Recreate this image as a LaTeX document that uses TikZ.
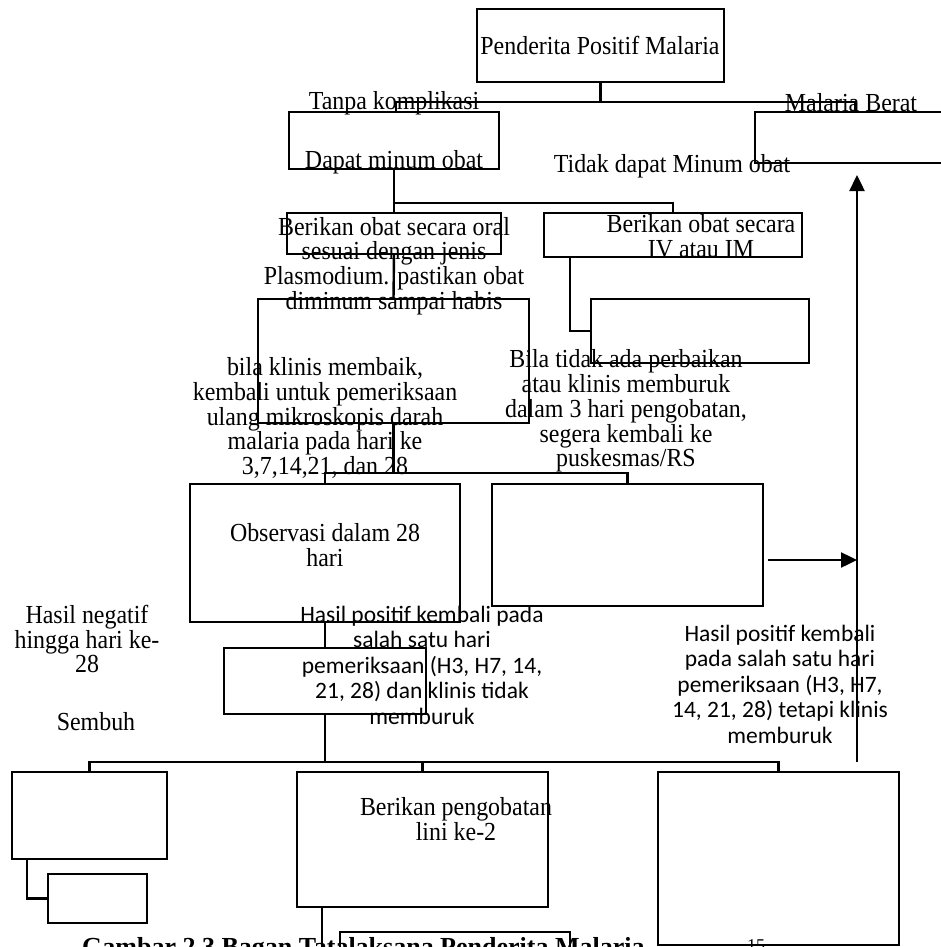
\documentclass[tikz,border=0pt]{standalone}
\usepackage{fontspec}
\setmainfont{Liberation Serif}
\newfontfamily\lblfont{Liberation Serif}[FakeStretch=0.92]
\newfontfamily\sansfont{Carlito}
\usetikzlibrary{arrows.meta}
\begin{document}
\begin{tikzpicture}[x=1pt,y=-1pt,
  box/.style={draw, line width=2.6pt, inner sep=0pt, outer sep=0pt, anchor=north west},
  conn/.style={line width=2.4pt},
  arr/.style={line width=2.4pt, -{Triangle[length=16pt,width=15pt]}},
  lbl/.style={inner sep=0pt, align=center, font=\lblfont\fontsize{26}{24.8}\selectfont},
  slbl/.style={inner sep=0pt, align=center, font=\sansfont\fontsize{23.5}{25.5}\selectfont}]
\useasboundingbox (0,0) rectangle (941,947);
\clip (0,0) rectangle (941,947);
% caption (cut by page edge, as in the reference)
\node[anchor=base west, inner sep=0pt, font=\bfseries\fontsize{26}{30}\selectfont] (cap) at (82,955) {Gambar 2.3 Bagan Tatalaksana Penderita Malaria};
\node[anchor=base west, inner sep=0pt, font=\fontsize{18}{20}\selectfont] (pg) at (747,951) {15};
% boxes
\node[box, minimum width=247pt, minimum height=73pt] (A) at (477,9) {};
\node[box, minimum width=210pt, minimum height=57pt] (L) at (289,112) {};
\node[box, minimum width=200pt, minimum height=51pt] (R) at (755,112) {};
\node[box, minimum width=214pt, minimum height=41pt] (Oral) at (287,213) {};
\node[box, minimum width=258pt, minimum height=44pt] (IV) at (544,213) {};
\node[box, minimum width=271pt, minimum height=124pt] (Big) at (258,299) {};
\node[box, minimum width=218pt, minimum height=64pt] (SR) at (591,299) {};
\node[box, minimum width=270pt, minimum height=138pt] (Obs) at (190,484) {};
\node[box, minimum width=271pt, minimum height=122pt] (Emp) at (492,484) {};
\node[box, minimum width=202pt, minimum height=66pt] (Pos) at (224,648) {};
\node[box, minimum width=155pt, minimum height=87pt] (L1) at (12,772) {};
\node[box, minimum width=99pt, minimum height=49pt] (L2) at (48,874) {};
\node[box, minimum width=251pt, minimum height=135pt] (Mid) at (297,772) {};
\node[box, minimum width=230pt, minimum height=60pt] (MB) at (340,932) {};
\node[box, minimum width=241pt, minimum height=173pt] (RB) at (658,772) {};
% helper coordinates
\coordinate (Ltop) at (396,112);
\coordinate (Rtop) at (855,112);
\coordinate (IVb) at (570,257);
\coordinate (IVt) at (673,213);
\coordinate (L1b) at (27,859);
\coordinate (Midb) at (322,907);
\coordinate (vb) at (857,762);
\coordinate (Rarr) at (857,175);
\coordinate (Ea) at (768,560);
\coordinate (Eb) at (857,560);
% connectors
\draw[conn] (A.south) -- ++(0,20) coordinate (j1);
\draw[conn] (Ltop) |- (j1) -| (Rtop);
\draw[conn] (L.south) -- (Oral.north);
\draw[conn] (L.south) ++(0,34) coordinate (j2) -| (IVt);
\draw[conn] (Oral.south) -- (Big.north);
\draw[conn] (IVb) |- (SR.west);
\draw[conn] (Big.south) -- ++(0,50) coordinate (j3);
\draw[conn] (Obs.north) -- ++(0,-11) -| (Emp.north);
\draw[arr] (Ea) -- (Eb);
\draw[arr] (vb) -- (Rarr);
\draw[conn] (Obs.south) -- (Pos.north);
\draw[conn] (Pos.south) -- ++(0,48) coordinate (j4);
\draw[conn] (L1.north) -- ++(0,-10) -| (RB.north);
\draw[conn] (Mid.north) -- ++(0,-10);
\draw[conn] (L1b) |- (L2.west);
\draw[conn] (Midb) -- ++(0,60);
% labels
\node[lbl] (tA) at (600,45) {Penderita Positif Malaria};
\node[lbl] (tTK) at (394,103) {Tanpa komplikasi};
\node[lbl] (tDM) at (394,162) {Dapat minum obat};
\node[lbl] (tMB) at (851,103) {Malaria Berat};
\node[lbl] (tTD) at (672,166) {Tidak dapat Minum obat};
\node[lbl] (tOral) at (394,266) {Berikan obat secara oral\\sesuai dengan jenis\\Plasmodium. pastikan obat\\diminum sampai habis};
\node[lbl] (tIV) at (701,236) {Berikan obat secara\\IV atau IM};
\node[lbl] (tBila) at (325,418) {bila klinis membaik,\\kembali untuk pemeriksaan\\ulang mikroskopis darah\\malaria pada hari ke\\3,7,14,21, dan 28};
\node[lbl] (tTidak) at (626,411) {Bila tidak ada perbaikan\\atau klinis memburuk\\dalam 3 hari pengobatan,\\segera kembali ke\\puskesmas/RS};
\node[lbl] (tObs) at (325,545) {Observasi dalam 28\\hari};
\node[lbl] (tNeg) at (87,639) {Hasil negatif\\hingga hari ke-\\28};
\node[lbl] (tSembuh) at (96,722) {Sembuh};
\node[slbl] (tPos1) at (422,665) {Hasil positif kembali pada\\salah satu hari\\pemeriksaan (H3, H7, 14,\\21, 28) dan klinis tidak\\memburuk};
\node[slbl] (tPos2) at (780,684) {Hasil positif kembali\\pada salah satu hari\\pemeriksaan (H3, H7,\\14, 21, 28) tetapi klinis\\memburuk};
\node[lbl] (tLini) at (456,819) {Berikan pengobatan\\lini ke-2};
\end{tikzpicture}
\end{document}
